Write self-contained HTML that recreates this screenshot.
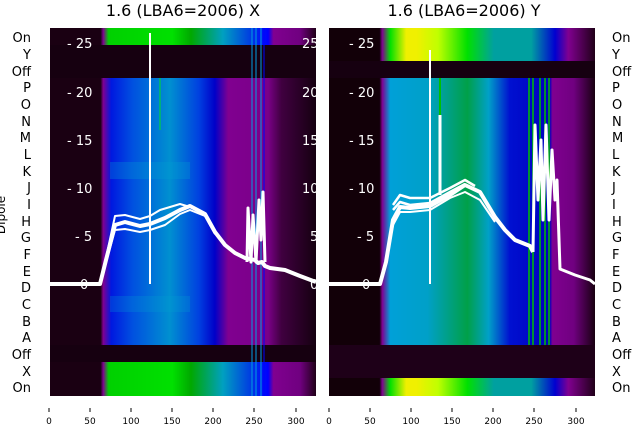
<!DOCTYPE html>
<html><head><meta charset="utf-8"><style>
body{margin:0;background:#fff;width:640px;height:440px;overflow:hidden}
text{font-family:"DejaVu Sans","Liberation Sans",sans-serif}
</style></head><body>
<svg width="640" height="440" viewBox="0 0 640 440" xmlns="http://www.w3.org/2000/svg">
<defs>
<linearGradient id="lm" x1="0" x2="1">
<stop offset="0" stop-color="#1a0012"/><stop offset="0.19" stop-color="#1a0012"/>
<stop offset="0.2" stop-color="#800090"/><stop offset="0.23" stop-color="#0018e0"/>
<stop offset="0.31" stop-color="#0050e0"/><stop offset="0.45" stop-color="#0090d0"/>
<stop offset="0.56" stop-color="#0040e0"/><stop offset="0.62" stop-color="#0000c8"/>
<stop offset="0.67" stop-color="#800090"/><stop offset="0.82" stop-color="#7a0088"/>
<stop offset="0.87" stop-color="#400040"/><stop offset="1" stop-color="#150010"/>
</linearGradient>
<linearGradient id="lo" x1="0" x2="1">
<stop offset="0" stop-color="#1a0012"/><stop offset="0.19" stop-color="#1a0012"/>
<stop offset="0.2" stop-color="#800090"/><stop offset="0.22" stop-color="#00d000"/>
<stop offset="0.46" stop-color="#00e000"/><stop offset="0.53" stop-color="#00a800"/>
<stop offset="0.65" stop-color="#00a0c0"/><stop offset="0.75" stop-color="#0040e0"/>
<stop offset="0.82" stop-color="#0000ff"/><stop offset="0.84" stop-color="#800090"/>
<stop offset="0.94" stop-color="#700080"/><stop offset="1" stop-color="#200018"/>
</linearGradient>
<linearGradient id="rm" x1="0" x2="1">
<stop offset="0" stop-color="#120008"/><stop offset="0.19" stop-color="#120008"/>
<stop offset="0.2" stop-color="#800090"/><stop offset="0.23" stop-color="#00a0d8"/>
<stop offset="0.37" stop-color="#00a0c8"/><stop offset="0.52" stop-color="#00a048"/>
<stop offset="0.6" stop-color="#00a0c8"/><stop offset="0.68" stop-color="#0010d0"/>
<stop offset="0.83" stop-color="#0000c0"/><stop offset="0.84" stop-color="#800090"/>
<stop offset="0.92" stop-color="#700080"/><stop offset="1" stop-color="#180010"/>
</linearGradient>
<linearGradient id="ro" x1="0" x2="1">
<stop offset="0" stop-color="#120008"/><stop offset="0.19" stop-color="#120008"/>
<stop offset="0.2" stop-color="#800090"/><stop offset="0.23" stop-color="#00e000"/>
<stop offset="0.29" stop-color="#f0f000"/><stop offset="0.33" stop-color="#f0f000"/>
<stop offset="0.41" stop-color="#c0ff00"/><stop offset="0.52" stop-color="#00e000"/>
<stop offset="0.62" stop-color="#00a0a0"/><stop offset="0.76" stop-color="#00a0a0"/>
<stop offset="0.85" stop-color="#0000d0"/><stop offset="0.9" stop-color="#800090"/>
<stop offset="1" stop-color="#200018"/>
</linearGradient>
</defs>
<text x="183" y="16" font-size="16" text-anchor="middle">1.6 (LBA6=2006) X</text>
<text x="464" y="16" font-size="16" text-anchor="middle">1.6 (LBA6=2006) Y</text>
<!-- left panel -->
<rect x="50" y="28" width="266" height="17" fill="url(#lo)"/>
<rect x="50" y="45" width="266" height="33" fill="#160010"/>
<rect x="50" y="78" width="266" height="267" fill="url(#lm)"/>
<rect x="110" y="162" width="80" height="17" fill="#00a0d0" opacity="0.3"/>
<rect x="110" y="296" width="80" height="16" fill="#00a0d0" opacity="0.25"/>
<rect x="50" y="345" width="266" height="17" fill="#160010"/>
<rect x="50" y="362" width="266" height="34" fill="url(#lo)"/>
<g stroke-width="1"><line x1="252" y1="28" x2="252" y2="396" stroke="#00a0e0"/><line x1="256" y1="28" x2="256" y2="396" stroke="#00a0e0"/><line x1="261" y1="28" x2="261" y2="396" stroke="#00a0e0"/><line x1="264" y1="28" x2="264" y2="396" stroke="#0000ff"/></g>
<line x1="160" y1="78" x2="160" y2="130" stroke="#00c060" stroke-width="1.5"/>
<!-- right panel -->
<rect x="329" y="28" width="266" height="33" fill="url(#ro)"/>
<rect x="329" y="61" width="266" height="17" fill="#160010"/>
<rect x="329" y="78" width="266" height="267" fill="url(#rm)"/>
<rect x="329" y="345" width="266" height="33" fill="#1e0018"/>
<rect x="329" y="378" width="266" height="18" fill="url(#ro)"/>
<g stroke-width="1.5" stroke="#00c000"><line x1="529" y1="78" x2="529" y2="345"/><line x1="533" y1="78" x2="533" y2="345"/><line x1="540" y1="78" x2="540" y2="345"/><line x1="545" y1="78" x2="545" y2="345"/><line x1="549" y1="78" x2="549" y2="345"/></g>
<line x1="440" y1="78" x2="440" y2="115" stroke="#00c000" stroke-width="2"/>
<!-- tick labels inside -->
<g fill="#fff" font-size="13">
<text x="67" y="48">- 25</text><text x="67" y="97">- 20</text><text x="67" y="145">- 15</text><text x="67" y="193">- 10</text><text x="75" y="241">- 5</text><text x="80" y="289">0</text>
<text x="302" y="48">25</text><text x="302" y="97">20</text><text x="302" y="145">15</text><text x="302" y="193">10</text><text x="310" y="241">5</text><text x="310" y="289">0</text>
<text x="349" y="48">- 25</text><text x="349" y="97">- 20</text><text x="349" y="145">- 15</text><text x="349" y="193">- 10</text><text x="357" y="241">- 5</text><text x="362" y="289">0</text>
</g>
<rect x="316" y="28" width="13" height="370" fill="#fff"/>
<!-- curves -->
<g fill="none" stroke="#fff" stroke-linejoin="round">
<line x1="150" y1="284" x2="150" y2="33" stroke-width="2"/>
<polyline stroke-width="4" points="20,284 100,284 106,260 115,225 125,222 140,226 150,224 165,218 180,210 190,206 205,214 215,232 225,245 235,253 245,258 255,260 258,263 262,262 265,266 270,268 285,270 300,276 316,282"/>
<polyline stroke-width="2" points="100,284 106,262 115,230 125,229 140,232 150,230 165,225 180,214 190,210 205,216 215,234"/>
<polyline stroke-width="2" points="106,258 115,216 125,215 140,219 150,216 160,210 170,207 180,204 190,207"/>
<polyline stroke-width="3" points="247,262 248,208 251,262 253,215 256,262 259,200 261,240 263,192 265,262"/>
<line x1="430" y1="50" x2="430" y2="284" stroke-width="2"/>
<line x1="440" y1="115" x2="440" y2="195" stroke-width="3"/>
<polyline stroke-width="4" points="329,284 380,284 386,262 393,220 400,207 410,208 430,206 450,195 465,185 480,192 495,217 505,230 515,240 530,246 533,252"/>
<polyline stroke-width="2" points="386,262 393,225 400,212 410,212 430,210 450,198 465,192 480,200 495,222"/>
<polyline stroke-width="2.5" points="393,205 400,195 410,198 430,198 450,188 465,180 475,186"/>
<polyline stroke-width="2.5" points="393,210 400,202 410,205 430,203 450,192 465,184"/>
<polyline stroke-width="3" points="533,252 535,125 538,200 541,140 543,220 546,125 549,220 552,150 555,200 557,180 560,269 575,275 590,280 595,284"/>
</g>
<!-- left labels -->
<g font-size="13" text-anchor="end">
<text x="31" y="42">On</text><text x="31" y="59">Y</text><text x="31" y="76">Off</text><text x="31" y="92">P</text><text x="31" y="109">O</text><text x="31" y="126">N</text><text x="31" y="142">M</text><text x="31" y="159">L</text><text x="31" y="176">K</text><text x="31" y="192">J</text><text x="31" y="209">I</text><text x="31" y="226">H</text><text x="31" y="242">G</text><text x="31" y="259">F</text><text x="31" y="276">E</text><text x="31" y="292">D</text><text x="31" y="309">C</text><text x="31" y="326">B</text><text x="31" y="342">A</text><text x="31" y="359">Off</text><text x="31" y="376">X</text><text x="31" y="392">On</text>
</g>
<g font-size="13">
<text x="612" y="42">On</text><text x="612" y="59">Y</text><text x="612" y="76">Off</text><text x="612" y="92">P</text><text x="612" y="109">O</text><text x="612" y="126">N</text><text x="612" y="142">M</text><text x="612" y="159">L</text><text x="612" y="176">K</text><text x="612" y="192">J</text><text x="612" y="209">I</text><text x="612" y="226">H</text><text x="612" y="242">G</text><text x="612" y="259">F</text><text x="612" y="276">E</text><text x="612" y="292">D</text><text x="612" y="309">C</text><text x="612" y="326">B</text><text x="612" y="342">A</text><text x="612" y="359">Off</text><text x="612" y="376">X</text><text x="612" y="392">On</text>
</g>
<text transform="translate(5,215) rotate(-90)" font-size="12" text-anchor="middle">Dipole</text>
<!-- x ticks -->
<g stroke="#000" stroke-width="1">
<line x1="49" y1="408" x2="49" y2="412"/><line x1="90" y1="408" x2="90" y2="412"/><line x1="131" y1="408" x2="131" y2="412"/><line x1="172" y1="408" x2="172" y2="412"/><line x1="213" y1="408" x2="213" y2="412"/><line x1="254" y1="408" x2="254" y2="412"/><line x1="296" y1="408" x2="296" y2="412"/>
<line x1="329" y1="408" x2="329" y2="412"/><line x1="370" y1="408" x2="370" y2="412"/><line x1="411" y1="408" x2="411" y2="412"/><line x1="452" y1="408" x2="452" y2="412"/><line x1="493" y1="408" x2="493" y2="412"/><line x1="534" y1="408" x2="534" y2="412"/><line x1="576" y1="408" x2="576" y2="412"/>
</g>
<g font-size="9" text-anchor="middle">
<text x="49" y="424">0</text><text x="90" y="424">50</text><text x="131" y="424">100</text><text x="172" y="424">150</text><text x="213" y="424">200</text><text x="254" y="424">250</text><text x="296" y="424">300</text>
<text x="329" y="424">0</text><text x="370" y="424">50</text><text x="411" y="424">100</text><text x="452" y="424">150</text><text x="493" y="424">200</text><text x="534" y="424">250</text><text x="576" y="424">300</text>
</g>
</svg>
</body></html>
